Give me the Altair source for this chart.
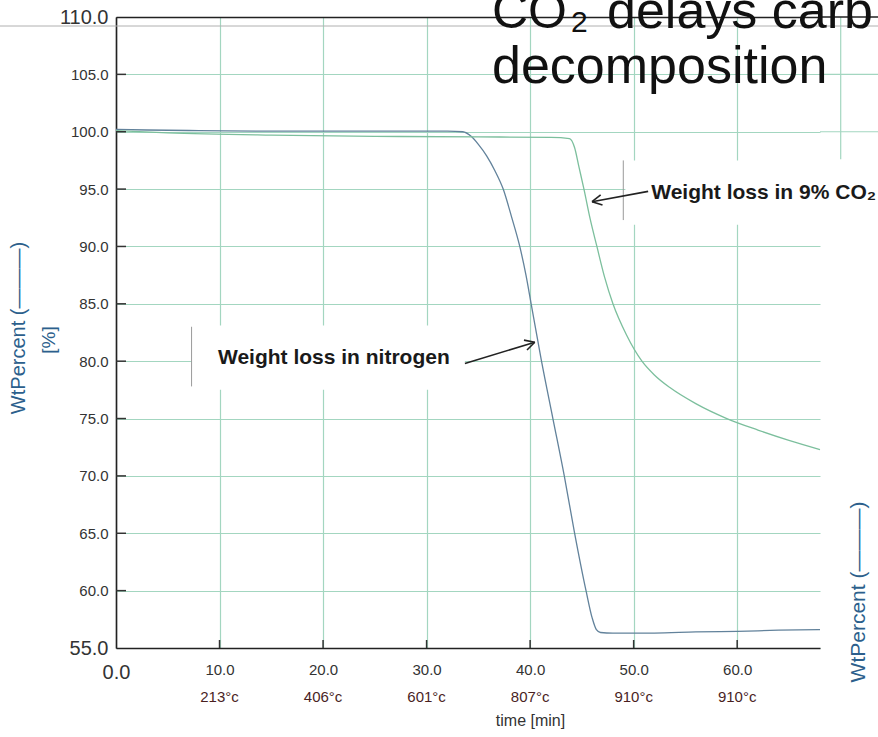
import math
import altair as alt
import pandas as pd

# ---------------- data ----------------
n2_time = [0, 3, 8, 15, 22, 28, 32, 33.5, 34.3, 35.0, 35.8, 36.6, 37.4, 38.2, 39.0, 39.6,
           40.1, 41.1, 42.2, 43.3, 44.3, 45.4, 46.0, 46.4, 46.8, 48, 52, 56, 60, 64, 68]
n2_wt = [100.2, 100.15, 100.1, 100.05, 100.05, 100.05, 100.05, 100.0, 99.6, 98.9, 97.9, 96.6,
         95.0, 92.6, 90.0, 87.5, 85.0, 80.0, 75.0, 70.0, 65.0, 60.0, 57.6, 56.6, 56.35, 56.3,
         56.3, 56.4, 56.45, 56.55, 56.6]

co2_time = [0, 5, 15, 25, 35, 42, 43.8, 44.3, 44.7, 45.2, 45.8, 46.45, 47.2, 48.0, 49.3, 50.8,
            52.0, 53.5, 56.0, 59.0, 62.0, 65.0, 68.0]
co2_wt = [100.1, 99.9, 99.7, 99.6, 99.55, 99.5, 99.4, 98.6, 97.0, 95.0, 92.4, 90.0, 87.3, 85.0,
          82.3, 80.0, 78.8, 77.7, 76.3, 75.0, 74.0, 73.1, 72.3]

x_ticks = [0, 10, 20, 30, 40, 50, 60]
y_ticks = [55, 60, 65, 70, 75, 80, 85, 90, 95, 100, 105, 110]
x_grid = [10, 20, 30, 40, 50, 60]
y_grid = [60, 65, 70, 75, 80, 85, 90, 95, 100, 105]
temp_times = [10, 20, 30, 40, 50, 60]
temp_labels = ["213°c", "406°c", "601°c", "807°c", "910°c", "910°c"]

n2_note = "Weight loss in nitrogen"
co2_note = "Weight loss in 9% CO₂"
n2_note_pos = (9.85, 80.3)
co2_note_pos = (51.7, 94.7)
n2_box = (7.3, 33.7, 77.5, 83.1)
co2_box = (49.2, 76.0, 91.9, 97.5)
n2_arrow = ((33.7, 79.8), (40.45, 81.65))
co2_arrow = ((51.4, 94.8), (45.98, 93.9))

# ---------------- layout ----------------
W, H = 704, 631
X0, X1 = 0, 68
Y0, Y1 = 55, 110
xs = alt.Scale(domain=[X0, X1], nice=False, zero=False)
ys = alt.Scale(domain=[Y0, Y1], nice=False, zero=False)

GRID = "#a3d6c0"
AXIS = "#222222"
N2C = "#62829b"
CO2C = "#7cbf9d"
FONT = "Liberation Sans"

one = pd.DataFrame({"a": [0]})

def arrow_segments(tail, tip, length=11, ang=28):
    px = W / (X1 - X0)
    py = H / (Y1 - Y0)
    tx, ty = tip[0] * px, -tip[1] * py
    sx, sy = tail[0] * px, -tail[1] * py
    dx, dy = sx - tx, sy - ty
    n = math.hypot(dx, dy)
    ux, uy = dx / n, dy / n
    segs = [dict(x=tail[0], y=tail[1], x2=tip[0], y2=tip[1])]
    for s in (1, -1):
        a = math.radians(ang * s)
        rx = ux * math.cos(a) - uy * math.sin(a)
        ry = ux * math.sin(a) + uy * math.cos(a)
        ex, ey = tx + rx * length, ty + ry * length
        segs.append(dict(x=tip[0], y=tip[1], x2=ex / px, y2=-ey / py))
    return segs

# ---------------- axes (identical on every layer so they merge) ----------------
x_axis = alt.Axis(
    values=x_ticks, format=".1f", ticks=False, grid=True,
    gridColor={"condition": {"test": "datum.value == 0", "value": AXIS}, "value": GRID},
    gridWidth=1.2, domainColor=AXIS, domainWidth=1.5,
    labelFont=FONT, labelColor="#333333",
    labelFontSize={"condition": {"test": "datum.value == 0", "value": 20}, "value": 15},
    labelPadding=14, title="time [min]", titleFont=FONT, titleFontSize=16,
    titleFontWeight="normal", titleColor="#333333", titleX=414, titleY=72,
    titleBaseline="middle", labelFlush=False,
)
y_axis = alt.Axis(
    values=y_ticks, format=".1f", ticks=False, grid=True,
    gridColor={"condition": {"test": "datum.value == 110", "value": AXIS}, "value": GRID},
    gridWidth={"condition": {"test": "datum.value == 110", "value": 1.5}, "value": 1.2},
    domainColor=AXIS, domainWidth=1.5,
    labelFont=FONT, labelColor="#333333",
    labelFontSize={"condition": {"test": "datum.value == 110 || datum.value == 55", "value": 20}, "value": 15},
    labelPadding=8, title=None, labelFlush=False,
)

def X(f):
    return alt.X(f, scale=xs, axis=x_axis)

def Y(f):
    return alt.Y(f, scale=ys, axis=y_axis)

n2_df = pd.DataFrame({"t": n2_time, "v": n2_wt})
co2_df = pd.DataFrame({"t": co2_time, "v": co2_wt})

n2_line = alt.Chart(n2_df).mark_line(color=N2C, strokeWidth=1.3, interpolate="monotone").encode(
    x=X("t:Q"), y=Y("v:Q"), order="t:Q",
)
co2_line = alt.Chart(co2_df).mark_line(color=CO2C, strokeWidth=1.3, interpolate="monotone").encode(
    x=X("t:Q"), y=Y("v:Q"), order="t:Q",
)

# grid extension on the right (above the blanked area)
ext_df = pd.DataFrame([
    dict(x=68, y=105, x2=76, y2=105),
    dict(x=68, y=100, x2=76, y2=100),
    dict(x=70, y=110, x2=70, y2=97.6),
])
ext = alt.Chart(ext_df).mark_rule(color=GRID, strokeWidth=1.2).encode(
    x=X("x:Q"), y=Y("y:Q"), x2="x2:Q", y2="y2:Q"
)

# top black border continues to the right edge, grey slide line
top_ext = alt.Chart(one).mark_rule(color=AXIS, strokeWidth=1.5).encode(
    x=alt.value(W), x2=alt.value(W + 80), y=alt.value(0)
)
grey_line = alt.Chart(one).mark_rule(color="#b0b0b0", strokeWidth=1).encode(
    x=alt.value(-120), x2=alt.value(W + 80), y=alt.value(9)
)

# inward ticks
xt = alt.Chart(pd.DataFrame({"t": x_grid})).mark_rule(color="#333333", strokeWidth=1.5).encode(
    x=X("t:Q"), y=alt.value(H - 8), y2=alt.value(H)
)
yt = alt.Chart(pd.DataFrame({"v": y_grid})).mark_rule(color="#333333", strokeWidth=1.5).encode(
    y=Y("v:Q"), x=alt.value(0), x2=alt.value(10)
)

# white annotation boxes
box_df = pd.DataFrame([
    dict(x=n2_box[0], x2=n2_box[1], y=n2_box[2], y2=n2_box[3]),
    dict(x=co2_box[0], x2=co2_box[1], y=co2_box[2], y2=co2_box[3]),
])
boxes = alt.Chart(box_df).mark_rect(color="white").encode(
    x=X("x:Q"), x2="x2:Q", y=Y("y:Q"), y2="y2:Q",
)
edge_df = pd.DataFrame([
    dict(x=n2_box[0], y=77.8, y2=83.0),
    dict(x=co2_box[0] - 0.2, y=92.3, y2=97.5),
])
edges = alt.Chart(edge_df).mark_rule(color="#9a9a9a", strokeWidth=1).encode(
    x=X("x:Q"), y=Y("y:Q"), y2="y2:Q"
)

notes_df = pd.DataFrame([
    dict(t=n2_note_pos[0], v=n2_note_pos[1], label=n2_note),
    dict(t=co2_note_pos[0], v=co2_note_pos[1], label=co2_note),
])
notes = alt.Chart(notes_df).mark_text(
    font=FONT, fontSize=21, fontWeight="bold", color="#1a1a1a", align="left", baseline="middle"
).encode(x=X("t:Q"), y=Y("v:Q"), text="label:N")

arr_df = pd.DataFrame(arrow_segments(*n2_arrow) + arrow_segments(*co2_arrow))
arrows = alt.Chart(arr_df).mark_rule(color="#222222", strokeWidth=1.6).encode(
    x=X("x:Q"), y=Y("y:Q"), x2="x2:Q", y2="y2:Q"
)

# handwritten temperatures under tick labels
temps = alt.Chart(pd.DataFrame({"t": temp_times, "label": temp_labels})).mark_text(
    font=FONT, fontSize=15, color="#4a1f1f", baseline="middle", align="center"
).encode(x=X("t:Q"), y=alt.value(H + 49), text="label:N")

# axis titles (slide text)
ytitle1 = alt.Chart(one).mark_text(
    font=FONT, fontSize=20, color="#2c5f8c", angle=270, baseline="middle", align="center"
).encode(x=alt.value(-97), y=alt.value(311), text=alt.value("WtPercent (———)"))
ytitle2 = alt.Chart(one).mark_text(
    font=FONT, fontSize=19, color="#2c5f8c", angle=270, baseline="middle", align="center"
).encode(x=alt.value(-67), y=alt.value(323), text=alt.value("[%]"))
ytitle_r = alt.Chart(one).mark_text(
    font=FONT, fontSize=21, color="#2c5f8c", angle=270, baseline="middle", align="center"
).encode(x=alt.value(743), y=alt.value(575), text=alt.value("WtPercent (———)"))

# slide title
t_co = alt.Chart(one).mark_text(font=FONT, fontSize=50, color="#111111", align="left",
                                baseline="alphabetic").encode(
    x=alt.value(376), y=alt.value(11), text=alt.value("CO"))
t_sub = alt.Chart(one).mark_text(font=FONT, fontSize=30, color="#111111", align="left",
                                 baseline="alphabetic").encode(
    x=alt.value(455), y=alt.value(15), text=alt.value("2"))
t_rest = alt.Chart(one).mark_text(font=FONT, fontSize=52, color="#111111", align="left",
                                  baseline="alphabetic").encode(
    x=alt.value(491), y=alt.value(11), text=alt.value("delays carb"))
t_line2 = alt.Chart(one).mark_text(font=FONT, fontSize=52, color="#111111", align="left",
                                   baseline="alphabetic").encode(
    x=alt.value(376), y=alt.value(66), text=alt.value("decomposition"))

chart = alt.layer(
    n2_line, ext, boxes, edges, top_ext, grey_line, co2_line, xt, yt, arrows, notes, temps,
    ytitle1, ytitle2, ytitle_r, t_co, t_sub, t_rest, t_line2,
).properties(
    width=W, height=H, autosize="none",
    padding={"left": 116, "top": 17, "right": 58, "bottom": 89},
    background="white",
).configure_view(stroke=None)

chart.save("out.html", embed_options={"renderer": "svg", "actions": False})
